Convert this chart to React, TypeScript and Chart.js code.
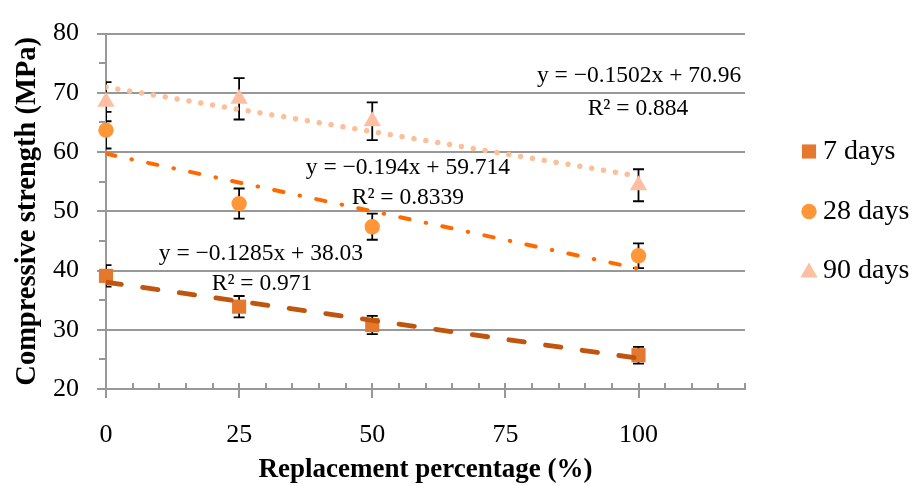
import { useEffect, useRef } from 'react';
import { Chart, registerables } from 'chart.js';
import { drawPoint } from 'chart.js/helpers';

Chart.register(...registerables);

// Replacement percentage (%) for each mix
const replacement = [0, 25, 50, 100];

// Mean compressive strength (MPa) and standard deviation per curing age
const strength7 = [39.1, 33.9, 30.8, 25.7];
const error7 = [1.8, 1.8, 1.55, 1.4];
const strength28 = [63.7, 51.3, 47.4, 42.5];
const error28 = [3.1, 2.55, 2.2, 2.1];
const strength90 = [68.5, 69.0, 65.2, 54.4];
const error90 = [3.3, 3.5, 3.2, 2.7];

const seriesNames = ['7 days', '28 days', '90 days'];

// Linear trendlines: y = slope * x + intercept
const trendSlopes = [-0.1285, -0.194, -0.1502];
const trendIntercepts = [38.03, 59.714, 70.96];
const trendR2 = ['0.971', '0.8339', '0.884'];
const trendRange = [0, 100];

// Axis ranges and tick steps
const xRange = [0, 120];
const xMajorStep = 25;
const xMinorStep = 5;
const yRange = [20, 80];
const yMajorStep = 10;

// Where each trendline's equation / R² is written (in axis units)
const equationPlacement = [
  { eq: { x: 29.1, y: 42.8 }, r2: { x: 29.3, y: 37.7 } },
  { eq: { x: 56.7, y: 57.4 }, r2: { x: 56.7, y: 52.3 } },
  { eq: { x: 100.1, y: 72.8 }, r2: { x: 99.9, y: 67.3 } },
];

const SERIF = '"Liberation Serif", "Times New Roman", serif';
const GRID = '#989898';

const markerStyles = [
  { pointStyle: 'rect', radius: 10, color: '#E4782E' },
  { pointStyle: 'circle', radius: 7.7, color: '#FF9637' },
  { pointStyle: 'triangle', radius: 10, color: '#FDBFA1' },
];

const trendStyles = [
  { color: '#C0550F', width: 4.8, dash: [15.5, 21.5] },
  { color: '#FF6A00', width: 4, dash: [9.5, 16.5, 0.5, 16.5] },
  { color: '#F9C09B', width: 5.5, dash: [0.01, 12] },
];

const fmtEquation = (m: number, b: number) =>
  `y = ${m < 0 ? '\u2212' : ''}${Math.abs(m)}x + ${b}`;

const decorPlugin = {
  id: 'decor',
  beforeDatasetsDraw(chart: any) {
    const { ctx, chartArea } = chart;
    const xs = chart.scales.x;
    const ys = chart.scales.y;
    ctx.save();
    // minor ticks on the y axis (outside) and tick marks on the x axis
    ctx.strokeStyle = GRID;
    ctx.lineWidth = 2;
    ctx.beginPath();
    for (let v = yRange[0] + yMajorStep / 2; v < yRange[1]; v += yMajorStep) {
      const py = Math.round(ys.getPixelForValue(v));
      ctx.moveTo(chartArea.left - 7, py);
      ctx.lineTo(chartArea.left, py);
    }
    for (let v = xRange[0]; v <= xRange[1]; v += xMinorStep) {
      const px = Math.round(xs.getPixelForValue(v));
      const major = v % xMajorStep === 0 && v <= 100;
      ctx.moveTo(px, chartArea.bottom - 6);
      ctx.lineTo(px, chartArea.bottom + (major ? 9 : 0));
    }
    ctx.stroke();

    // error bars, clipped to the plot area
    ctx.beginPath();
    ctx.rect(chartArea.left, chartArea.top, chartArea.right - chartArea.left, chartArea.bottom - chartArea.top);
    ctx.clip();
    const sets = [
      [strength7, error7],
      [strength28, error28],
      [strength90, error90],
    ];
    ctx.strokeStyle = '#000';
    ctx.lineWidth = 1.8;
    sets.forEach(([vals, errs]) => {
      vals.forEach((v, i) => {
        const px = xs.getPixelForValue(replacement[i]);
        const top = ys.getPixelForValue(v + errs[i]);
        const bot = ys.getPixelForValue(v - errs[i]);
        ctx.beginPath();
        ctx.moveTo(px, top);
        ctx.lineTo(px, bot);
        ctx.moveTo(px - 5.5, top);
        ctx.lineTo(px + 5.5, top);
        ctx.moveTo(px - 5.5, bot);
        ctx.lineTo(px + 5.5, bot);
        ctx.stroke();
      });
    });
    ctx.restore();
  },
  afterDatasetsDraw(chart: any) {
    const { ctx } = chart;
    const xs = chart.scales.x;
    const ys = chart.scales.y;
    ctx.save();
    ctx.fillStyle = '#000';
    ctx.textAlign = 'center';
    ctx.textBaseline = 'middle';
    ctx.font = `23.5px ${SERIF}`;
    equationPlacement.forEach((p, i) => {
      ctx.fillText(
        fmtEquation(trendSlopes[i], trendIntercepts[i]),
        xs.getPixelForValue(p.eq.x),
        ys.getPixelForValue(p.eq.y)
      );
      ctx.fillText(`R\u00B2 = ${trendR2[i]}`, xs.getPixelForValue(p.r2.x), ys.getPixelForValue(p.r2.y));
    });

    // legend
    const legendX = 809;
    const legendY = [151.5, 211.5, 270.5];
    ctx.font = `28px ${SERIF}`;
    ctx.textAlign = 'left';
    seriesNames.forEach((name, i) => {
      const m = markerStyles[i];
      const cy = legendY[i] + (m.pointStyle === 'triangle' ? 2 : 0);
      ctx.fillStyle = m.color;
      ctx.strokeStyle = m.color;
      drawPoint(ctx, { pointStyle: m.pointStyle, radius: m.radius, rotation: 0, borderWidth: 0 }, legendX, cy);
      ctx.fillStyle = '#000';
      ctx.fillText(name, 823, legendY[i]);
    });
    ctx.restore();
  },
};

export default function App() {
  const canvasRef = useRef<HTMLCanvasElement | null>(null);

  useEffect(() => {
    if (!canvasRef.current) return;
    const series = [strength7, strength28, strength90];

    const scatterSets = series.map((vals, i) => ({
      type: 'scatter' as const,
      label: seriesNames[i],
      data: replacement.map((x, j) => ({ x, y: vals[j] })),
      pointStyle: markerStyles[i].pointStyle,
      pointRadius: markerStyles[i].radius,
      pointHoverRadius: markerStyles[i].radius,
      backgroundColor: markerStyles[i].color,
      borderColor: markerStyles[i].color,
      pointBorderWidth: 0,
      showLine: false,
      clip: false,
      order: 1,
    }));

    const trendSets = trendSlopes.map((m, i) => ({
      type: 'line' as const,
      label: `${seriesNames[i]} trend`,
      data: trendRange.map((x) => ({ x, y: m * x + trendIntercepts[i] })),
      borderColor: trendStyles[i].color,
      borderWidth: trendStyles[i].width,
      borderDash: trendStyles[i].dash,
      borderCapStyle: 'round' as const,
      pointRadius: 0,
      fill: false,
      order: 0,
    }));

    const chart = new Chart(canvasRef.current, {
      type: 'scatter',
      data: { datasets: [...scatterSets, ...trendSets] as any },
      options: {
        animation: false,
        responsive: false,
        devicePixelRatio: 1,
        layout: { padding: { left: 0, top: 23, right: 173, bottom: 0 } },
        plugins: {
          legend: { display: false },
          tooltip: { enabled: false },
        },
        scales: {
          x: {
            type: 'linear',
            min: xRange[0],
            max: xRange[1],
            grid: { display: false },
            border: { display: true, color: GRID, width: 2 },
            ticks: {
              stepSize: xMajorStep,
              includeBounds: false,
              padding: 23,
              color: '#000',
              font: { family: SERIF, size: 26 },
              maxRotation: 0,
            },
            title: {
              display: true,
              text: 'Replacement percentage (%)',
              color: '#000',
              font: { family: SERIF, size: 27, weight: 'bold' },
              padding: { top: 0, bottom: 0 },
            },
            afterFit(scale: any) {
              scale.height = 97;
            },
          },
          y: {
            type: 'linear',
            min: yRange[0],
            max: yRange[1],
            grid: { color: GRID, lineWidth: 2, tickLength: 9, tickColor: GRID },
            border: { display: true, color: GRID, width: 2 },
            ticks: {
              stepSize: yMajorStep,
              padding: 18,
              color: '#000',
              font: { family: SERIF, size: 26 },
            },
            title: {
              display: true,
              text: 'Compressive strength (MPa)',
              color: '#000',
              font: { family: SERIF, size: 28.5, weight: 'bold' },
              padding: { top: 11, bottom: 0 },
            },
            afterFit(scale: any) {
              scale.width = 106;
            },
          },
        },
      },
      plugins: [decorPlugin],
    });

    return () => chart.destroy();
  }, []);

  return (
    <div style={{ position: 'absolute', left: 0, top: 0, width: 918, height: 486, background: '#fff' }}>
      <canvas ref={canvasRef} width={918} height={486} />
    </div>
  );
}
